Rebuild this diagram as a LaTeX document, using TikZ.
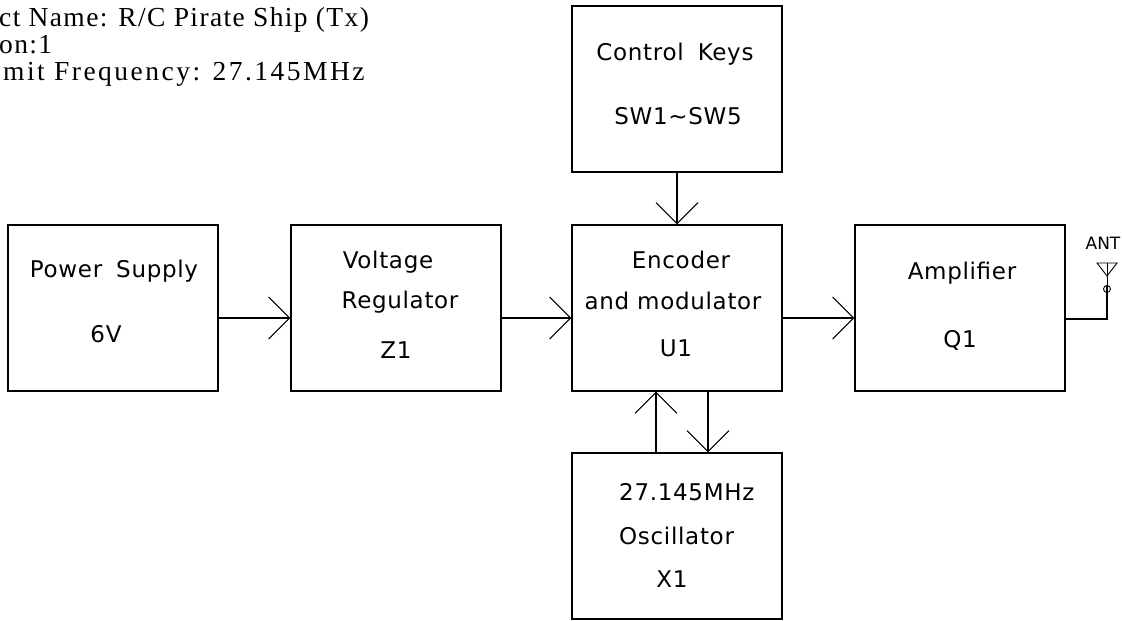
\documentclass[tikz,border=0pt]{standalone}
\usepackage{fontspec}
\setmainfont{Liberation Serif}
\newfontfamily\titleA[LetterSpace=5]{Liberation Serif}
\newfontfamily\titleB[LetterSpace=9]{Liberation Serif}
\newfontfamily\plotfont[LetterSpace=3]{DejaVu Sans}
\newfontfamily\antfont{DejaVu Sans}
\usetikzlibrary{arrows.meta,calc}
\begin{document}
\begin{tikzpicture}[x=1pt,y=-1pt,
  blk/.style={draw,line width=1.1pt,minimum width=210pt,minimum height=166pt,inner sep=0pt},
  lbl/.style={inner sep=0pt,anchor=base,font=\plotfont\fontsize{23}{26}\selectfont},
  ttl/.style={inner sep=0pt,anchor=base west},
  arr/.style={line width=1.1pt,-{Straight Barb[length=21pt,width=42pt,line width=1.1pt]}},
  wire/.style={line width=1.1pt}]
\useasboundingbox (0,0) rectangle (1122,621);
% title
\node[ttl,font=\titleA\fontsize{27.5}{32}\selectfont] (t1) at (-1,26) {ct Name: R/C Pirate Ship (Tx)};
\node[ttl,font=\titleA\fontsize{27.5}{32}\selectfont] (t2) at (-1,53) {on:1};
\node[ttl,font=\titleB\fontsize{27.5}{32}\selectfont] (t3) at (3,80) {mit Frequency: 27.145MHz};
% blocks
\node[blk] (ps) at (113,308) {};
\node[blk] (vr) at (396,308) {};
\node[blk] (enc) at (677,308) {};
\node[blk] (amp) at (960,308) {};
\node[blk] (ck) at (677,89) {};
\node[blk] (osc) at (677,536) {};
% labels
\node[lbl] (ps1) at (114,277) {Power\hspace{6pt} Supply};
\node[lbl] (ps2) at (106,342) {6V};
\node[lbl] (vr1) at (388,268) {Voltage};
\node[lbl] (vr2) at (400,308) {Regulator};
\node[lbl] (vr3) at (396,358) {Z1};
\node[lbl] (en1) at (681,268) {Encoder};
\node[lbl] (en2) at (673,309) {and modulator};
\node[lbl] (en3) at (676,356) {U1};
\node[lbl] (am1) at (962,279) {Amplifier};
\node[lbl] (am2) at (960,347) {Q1};
\node[lbl] (ck1) at (675,60) {Control\hspace{6pt} Keys};
\node[lbl] (ck2) at (678,124) {SW1\textasciitilde SW5};
\node[lbl,anchor=base west] (os1) at (619,500) {27.145MHz};
\node[lbl,anchor=base west] (os2) at (619,544) {Oscillator};
\node[lbl] (os3) at (672,587) {X1};
% connectors
\draw[arr] ([yshift=-10pt]ps.east) -- ([yshift=-10pt]vr.west);
\draw[arr] ([yshift=-10pt]vr.east) -- ([yshift=-10pt]enc.west);
\draw[arr] ([yshift=-10pt]enc.east) -- ([yshift=-10pt]amp.west);
\draw[arr] (ck.south) -- (enc.north);
\draw[arr] ([xshift=-21pt]osc.north) -- ([xshift=-21pt]enc.south);
\draw[arr] ([xshift=31pt]enc.south) -- ([xshift=31pt]osc.north);
% antenna
\coordinate (ac) at (1107,319);
\coordinate (ao) at (1107,289);
\coordinate (at) at (1107,263);
\draw[wire] ([yshift=-11pt]amp.east) -- (ac) -- ([yshift=3.5pt]ao);
\draw[line width=0.9pt] (ao) circle[radius=3.5pt];
\draw[line width=0.9pt] ([yshift=-3.5pt]ao) -- (at);
\draw[line width=0.9pt] (1097,263) -- (1117,263) -- (1107,276) -- cycle;
\node[inner sep=0pt,font=\antfont\fontsize{17}{20}\selectfont] (ant) at (1103,243) {ANT};
\end{tikzpicture}
\end{document}
